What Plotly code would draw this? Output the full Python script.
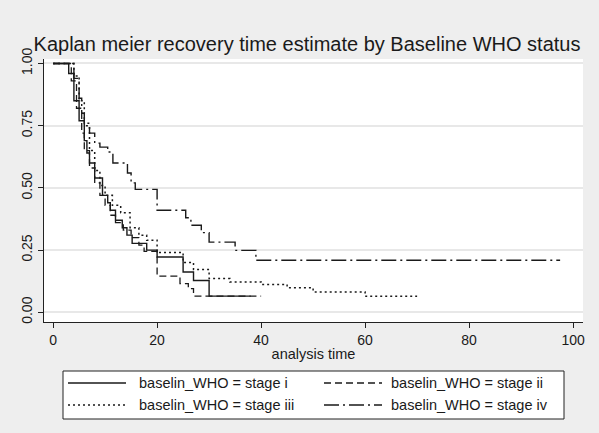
import plotly.graph_objects as go

# ---- data ----
stage_i_t = [0, 3, 4, 5, 6, 6.5, 7, 8, 9.5, 10.5, 11, 12, 13.3, 14.2, 15.2, 18, 20, 25, 27, 30, 38]
stage_i_s = [1, 0.96, 0.85, 0.77, 0.69, 0.64, 0.60, 0.54, 0.47, 0.44, 0.41, 0.37, 0.34, 0.31, 0.277, 0.25, 0.222, 0.162, 0.128, 0.065, 0.065]

stage_ii_t = [0, 3.5, 4.5, 5.5, 6, 7, 8, 9, 10, 11, 12, 13.5, 15, 16.5, 17.5, 20, 24.4, 26, 27, 40]
stage_ii_s = [1, 0.93, 0.82, 0.72, 0.65, 0.58, 0.52, 0.47, 0.43, 0.39, 0.36, 0.33, 0.30, 0.27, 0.245, 0.145, 0.115, 0.095, 0.065, 0.065]

stage_iii_t = [0, 4, 5, 6, 7, 8, 9, 10, 11.4, 13, 14.8, 16.5, 18, 20, 25, 27, 30, 34, 40, 45, 50, 60, 70]
stage_iii_s = [1, 0.95, 0.85, 0.75, 0.65, 0.57, 0.51, 0.47, 0.43, 0.40, 0.34, 0.31, 0.29, 0.24, 0.20, 0.172, 0.136, 0.122, 0.112, 0.099, 0.082, 0.064, 0.064]

stage_iv_t = [0, 4, 5, 5.5, 6, 7, 8, 9, 10.5, 11.5, 14.3, 15, 15.8, 20, 25.5, 26.5, 28.5, 30, 35, 39, 97.5]
stage_iv_s = [1, 0.94, 0.86, 0.80, 0.76, 0.72, 0.68, 0.664, 0.644, 0.60, 0.56, 0.52, 0.494, 0.41, 0.38, 0.35, 0.32, 0.282, 0.249, 0.209, 0.209]

series_names = ["baselin_WHO = stage i", "baselin_WHO = stage ii",
                "baselin_WHO = stage iii", "baselin_WHO = stage iv"]
x_ticks = [0, 20, 40, 60, 80, 100]
y_ticks = [0, 0.25, 0.5, 0.75, 1]
y_ticktext = ["0.00", "0.25", "0.50", "0.75", "1.00"]

title_text = "Kaplan meier recovery time estimate by Baseline WHO status"
x_title = "analysis time"

# ---- styling ----
FONT = "Liberation Sans, Arial, sans-serif"
INK = "#1a1a1a"
BG = "#eeeeee"
dashes = ["solid", "7px,4px", "2px,3px", "15px,4px,2px,4px"]
widths = [1.4, 1.3, 1.5, 1.4]

W, H = 599, 433
L, R, T, B = 44, 16, 59, 111
plot_w = W - L - R
plot_h = H - T - B

series = [(stage_i_t, stage_i_s), (stage_ii_t, stage_ii_s),
          (stage_iii_t, stage_iii_s), (stage_iv_t, stage_iv_s)]

fig = go.Figure()
for (t, s), name, d, w in zip(series, series_names, dashes, widths):
    fig.add_trace(go.Scatter(x=t, y=s, mode="lines", name=name,
                             line=dict(color=INK, dash=d, width=w, shape="hv"),
                             showlegend=False))

def px_x(px):
    return (px - L) / plot_w

def px_y(py):
    return (H - B - py) / plot_h

shapes = []
annotations = []
# legend box
shapes.append(dict(type="rect", xref="paper", yref="paper",
                   x0=px_x(63), x1=px_x(564), y0=px_y(419), y1=px_y(371),
                   line=dict(color="#222", width=1), fillcolor="white", layer="above"))
legend_pos = [(68, 126, 137, 383), (324, 382, 389, 383),
              (68, 126, 137, 405), (324, 382, 389, 405)]
for (sx0, sx1, tx, ty), name, d, w in zip(legend_pos, series_names, dashes, widths):
    shapes.append(dict(type="line", xref="paper", yref="paper",
                       x0=px_x(sx0), x1=px_x(sx1), y0=px_y(ty), y1=px_y(ty),
                       line=dict(color=INK, dash=d, width=w), layer="above"))
    annotations.append(dict(xref="paper", yref="paper", x=px_x(tx), y=px_y(ty),
                            text=name, showarrow=False, xanchor="left", yanchor="middle",
                            font=dict(family=FONT, size=14.5, color=INK)))

fig.update_layout(
    width=W, height=H,
    margin=dict(l=L, r=R, t=T, b=B),
    paper_bgcolor=BG,
    plot_bgcolor="white",
    font=dict(family=FONT, color=INK),
    title=dict(text=title_text, x=px_x(307), xref="paper", xanchor="center",
               y=1 - 44 / H, yref="container", yanchor="middle",
               font=dict(family=FONT, size=20, color=INK)),
    shapes=shapes,
    annotations=annotations,
    showlegend=False,
)
fig.update_xaxes(range=[-1.75, 101.9], tickvals=x_ticks, ticks="outside", ticklen=5,
                 tickcolor="#222", showline=True, linecolor="#222", linewidth=1,
                 showgrid=False, zeroline=False,
                 tickfont=dict(family=FONT, size=14, color=INK),
                 title=dict(text=x_title, standoff=2, font=dict(family=FONT, size=14.5, color=INK)))
fig.update_yaxes(range=[-0.039, 1.018], tickvals=y_ticks, ticktext=y_ticktext,
                 tickangle=-90, ticks="outside", ticklen=5, tickcolor="#222",
                 showline=True, linecolor="#222", linewidth=1,
                 showgrid=True, gridcolor="#e8e8e8", gridwidth=1.5, zeroline=False,
                 tickfont=dict(family=FONT, size=14, color=INK))

fig.write_html("out.html",
               config={"displayModeBar": False},
               post_script="document.body.style.margin='0';"
                           "document.body.style.background='" + BG + "';")
